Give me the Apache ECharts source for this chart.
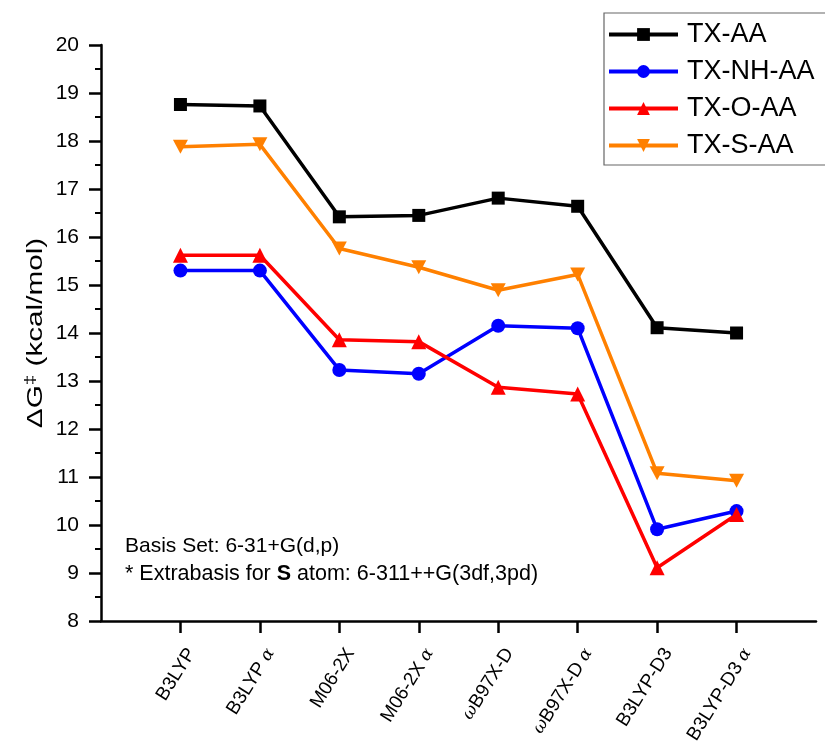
<!DOCTYPE html>
<html>
<head>
<meta charset="utf-8">
<script src="https://cdn.jsdelivr.net/npm/echarts@6/dist/echarts.min.js"></script>
<style>
  html, body { margin: 0; padding: 0; background: #fff; }
  #chart { width: 825px; height: 742px; }
</style>
</head>
<body>
<div id="chart"></div>
<script>
// Functionals / basis variants along the x axis
const categories = ['B3LYP', 'B3LYP α', 'M06-2X', 'M06-2X α', 'ωB97X-D', 'ωB97X-D α', 'B3LYP-D3', 'B3LYP-D3 α'];

// Activation free energies, kcal/mol
const txAA   = [18.76, 18.73, 16.42, 16.45, 16.81, 16.64, 14.11, 14.00];
const txNHAA = [15.30, 15.30, 13.23, 13.15, 14.15, 14.10, 9.91, 10.29];
const txOAA  = [15.62, 15.62, 13.86, 13.82, 12.87, 12.73, 9.11, 10.22];
const txSAA  = [17.88, 17.93, 15.76, 15.37, 14.89, 15.22, 11.08, 10.92];

const seriesNames = ['TX-AA', 'TX-NH-AA', 'TX-O-AA', 'TX-S-AA'];
const yTicks = [8, 9, 10, 11, 12, 13, 14, 15, 16, 17, 18, 19, 20];

const FONT = 'Liberation Sans, Arial, sans-serif';
const triDown = 'path://M0,0 L10,0 L5,9 Z';

function pts(arr) { return arr.map((v, i) => [i + 1, v]); }

const chart = echarts.init(document.getElementById('chart'), null, { renderer: 'canvas' });

function makeSeries(name, data, color, symbol, size) {
  return {
    name: name,
    type: 'line',
    data: pts(data),
    symbol: symbol,
    symbolSize: size,
    showAllSymbol: true,
    lineStyle: { color: color, width: 3.5 },
    itemStyle: { color: color },
    emphasis: { disabled: true },
    z: 3
  };
}

const option = {
  animation: false,
  backgroundColor: '#fff',
  textStyle: { fontFamily: FONT, color: '#000' },
  grid: { left: 101, right: 9, top: 45, bottom: 121, containLabel: false, outerBoundsMode: 'none' },
  legend: {
    orient: 'vertical',
    left: 604,
    top: 13,
    padding: [8, 40, 6, 3],
    itemGap: 10,
    itemWidth: 69,
    itemHeight: 16,
    borderColor: '#666',
    borderWidth: 1.2,
    lineStyle: { width: 4 },
    textStyle: { fontSize: 27, color: '#000', fontFamily: FONT, padding: [0, 0, 0, 4] },
    data: seriesNames
  },
  xAxis: {
    type: 'value',
    min: 0,
    max: 9,
    interval: 1,
    splitLine: { show: false },
    axisLine: { show: true, onZero: false, lineStyle: { color: '#000', width: 2.5 } },
    axisTick: { show: true, inside: false, length: 12, lineStyle: { color: '#000', width: 2.5 } },
    axisLabel: {
      rotate: 58,
      margin: 22,
      padding: [26, 0, 0, 0],
      fontSize: 19,
      color: '#000',
      fontFamily: FONT,
      showMinLabel: false,
      showMaxLabel: false,
      formatter: function (v) {
        const c = categories[v - 1];
        if (!c) return '';
        return c.replace(/([αω])/g, '{g|$1}');
      },
      rich: {
        g: { fontFamily: 'DejaVu Serif, serif', fontStyle: 'italic', fontSize: 17, color: '#000' }
      }
    }
  },
  yAxis: {
    type: 'value',
    min: yTicks[0],
    max: yTicks[yTicks.length - 1],
    interval: 1,
    splitLine: { show: false },
    axisLine: { show: true, onZero: false, lineStyle: { color: '#000', width: 2.5 } },
    axisTick: { show: true, inside: false, length: 12, lineStyle: { color: '#000', width: 2.5 } },
    minorTick: { show: true, splitNumber: 2, length: 6, lineStyle: { color: '#000', width: 2 } },
    axisLabel: { fontSize: 21, color: '#000', margin: 22, fontFamily: FONT }
  },
  graphic: [
    {
      // y-axis title, stretched along its length
      type: 'text',
      x: 36,
      y: 333,
      rotation: Math.PI / 2,
      scaleX: 1.35,
      style: {
        text: 'ΔG{sup|‡} (kcal/mol)',
        fontSize: 22,
        fontFamily: FONT,
        fill: '#000',
        align: 'center',
        verticalAlign: 'middle',
        rich: { sup: { fontSize: 14, padding: [0, 0, 9, 0], fill: '#000', fontFamily: FONT } }
      }
    },
    {
      type: 'text',
      left: 125,
      top: 536,
      style: {
        text: 'Basis Set: 6-31+G(d,p)',
        fontSize: 21,
        fontFamily: FONT,
        fill: '#000'
      }
    },
    {
      type: 'text',
      left: 125,
      top: 563,
      style: {
        text: '* Extrabasis for {b|S} atom: 6-311++G(3df,3pd)',
        fontSize: 21.5,
        fontFamily: FONT,
        fill: '#000',
        rich: { b: { fontWeight: 'bold', fontSize: 21.5, fontFamily: FONT, fill: '#000' } }
      }
    }
  ],
  series: [
    makeSeries(seriesNames[0], txAA, '#000000', 'rect', 13),
    makeSeries(seriesNames[1], txNHAA, '#0000FF', 'circle', 14),
    makeSeries(seriesNames[2], txOAA, '#FF0000', 'triangle', 15),
    makeSeries(seriesNames[3], txSAA, '#FF8000', triDown, [15, 14])
  ]
};

chart.setOption(option);
</script>
</body>
</html>
